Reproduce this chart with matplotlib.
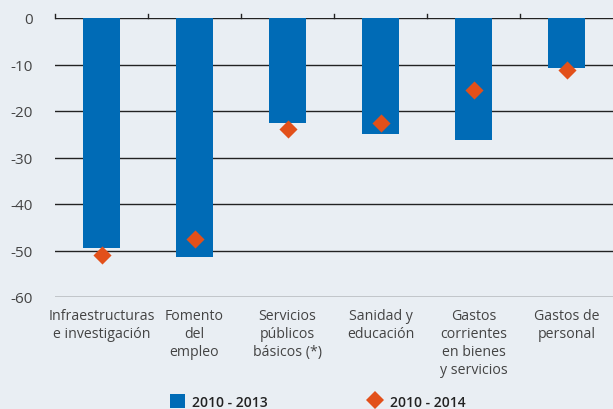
import matplotlib
matplotlib.use("Agg")
import matplotlib.pyplot as plt
from matplotlib.lines import Line2D
from matplotlib.patches import Patch
import numpy as np

categories = [
    "Infraestructuras\ne investigación",
    "Fomento\ndel\nempleo",
    "Servicios\npúblicos\nbásicos (*)",
    "Sanidad y\neducación",
    "Gastos\ncorrientes\nen bienes\ny servicios",
    "Gastos de\npersonal",
]
var_2013 = [-49.5, -51.3, -22.5, -24.9, -26.3, -10.7]
var_2014 = [-51.0, -47.5, -23.9, -22.5, -15.5, -11.1]
yticks = [0, -10, -20, -30, -40, -50, -60]

BG = "#e9eef3"
BLUE = "#006bb6"
ORANGE = "#e2501a"
TXT = "#444444"

plt.rcParams["font.family"] = ["Open Sans", "DejaVu Sans"]

fig = plt.figure(figsize=(6.13, 4.10), dpi=100, facecolor=BG)
ax = fig.add_axes([55 / 613, 1 - 298 / 410, 1 - 55 / 613, (298 - 19) / 410])
ax.set_facecolor(BG)

x = np.arange(len(categories))
for y in yticks:
    ax.axhline(y, color="#222222", lw=1.0, zorder=1)
ax.bar(x, var_2013, width=0.4, color=BLUE, zorder=2)
ax.scatter(x, var_2014, marker="D", s=85, color=ORANGE, zorder=3, linewidths=0)

ax.set_xlim(-0.5, len(categories) - 0.5)
ax.set_ylim(-60, 0)
ax.set_yticks(yticks)
ax.set_yticklabels([str(v) for v in yticks], fontsize=11, color=TXT)
ax.tick_params(axis="y", length=0, pad=16)
ax.set_xticks([])
for s in ax.spines.values():
    s.set_visible(False)

# small tick marks on zero line at category boundaries
for b in np.arange(-0.5, len(categories) - 0.5, 1.0):
    ax.plot([b, b], [0, 0.9], color="#222222", lw=1.0, clip_on=False, zorder=4)

for xi, lab in zip(x, categories):
    ax.text(xi, -62.4, lab, ha="center", va="top", fontsize=10.2, color=TXT,
            linespacing=1.27)

handles = [
    Patch(facecolor=BLUE, edgecolor="none", label="2010 - 2013"),
    Line2D([], [], marker="D", ls="none", color=ORANGE, markersize=9,
           markeredgewidth=0, label="2010 - 2014"),
]
leg = fig.legend(handles=handles, loc="lower left", bbox_to_anchor=(157 / 613, -0.03),
                 ncol=2, frameon=False, fontsize=10, columnspacing=7.2,
                 handlelength=1.15, handleheight=1.15, handletextpad=0.45)
for t in leg.get_texts():
    t.set_color("#222222")
    t.set_fontweight("semibold")

fig.savefig("out.png", dpi=100, facecolor=BG)
